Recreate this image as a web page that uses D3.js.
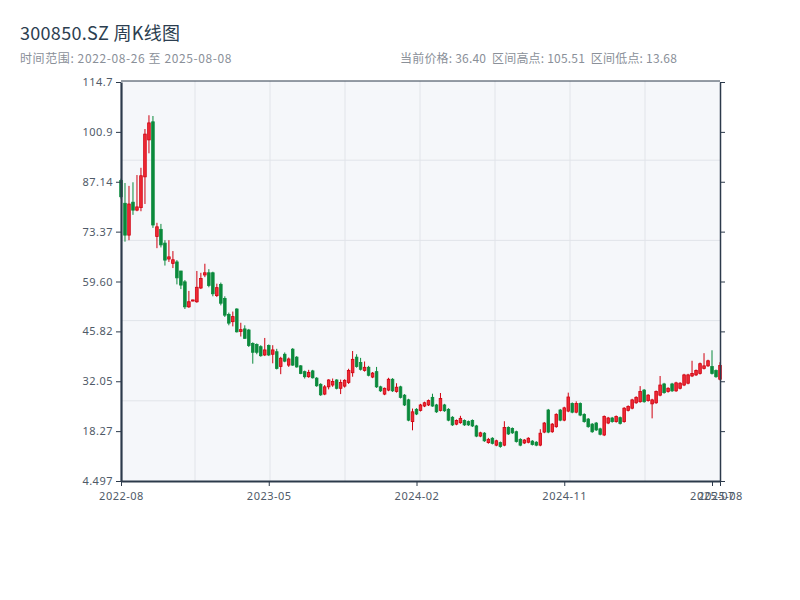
<!DOCTYPE html>
<html>
<head>
<meta charset="utf-8">
<script src="https://cdn.jsdelivr.net/npm/d3@7"></script>
<style>
  body { margin: 0; background: #fff; font-family: "Noto Sans CJK SC", "Noto Sans", sans-serif; }
</style>
</head>
<body>
<div id="chart"></div>
<script>
// weekly bars, holiday weeks with no trading are absent
const startDate = "2022-08-26";
const skippedWeeks = ["2022-10-07", "2023-01-27", "2023-10-06", "2024-02-16"];

const open = [
  87.5, 81.2, 72.4, 81.5, 79.3, 80, 88.5, 98.7, 103.7, 72,
  74, 70.2, 65.8, 64.6, 65, 62.5, 59.5, 52.6, 54.2, 54,
  57.8, 61.4, 62, 62, 55.7, 58.8, 54.9, 50.5, 48.5, 52,
  45.8, 46.5, 46.2, 42.5, 42.2, 41.6, 39.3, 41.9, 39.5, 40.2,
  36.1, 39.5, 36.5, 40.9, 38.7, 36.3, 34.7, 33.3, 34.9, 32.9,
  31.2, 28.5, 30.5, 31, 32.4, 30.1, 30.7, 31.7, 34.4, 38.7,
  37.2, 35, 35.9, 33.2, 34.7, 30.5, 28.5, 29.6, 32.6, 29.2,
  30.5, 28.2, 26.9, 20.9, 24.3, 24, 25.2, 25.5, 27.6, 25.5,
  24, 25.5, 24.3, 22.1, 20.2, 20.6, 21.2, 20.9, 21.2, 19.7,
  16.9, 17.7, 15.1, 16.3, 14.4, 15.1, 14.4, 19.3, 19, 18.1,
  16, 15, 15.2, 15.5, 15.2, 14.4, 18, 24.1, 18.1, 19.5,
  24.1, 21.3, 23.8, 25.9, 23.5, 25.9, 22.9, 21.6, 20.2, 20.5,
  18.9, 17.2, 20.5, 21.9, 20.9, 22, 20.9, 24, 24.6, 26.1,
  26.4, 29.6, 26.7, 25.8, 26.1, 28.2, 31.3, 29.2, 31.3, 29.4,
  30.1, 31, 31.5, 33.5, 33.8, 34.2, 35.6, 36.3, 36.1, 35,
  32.6
];
const close = [
  83, 72.4, 81, 79.3, 80.2, 88.8, 100.3, 103.4, 75.2, 74.7,
  69.7, 65.5, 66.4, 65.6, 60.6, 58.6, 52.6, 54, 54.5, 58,
  60.4, 62, 58.5, 56.2, 57.9, 53.6, 50.3, 48.1, 49.9, 45.7,
  46.3, 43.9, 41.9, 40.05, 40.05, 39.1, 40.7, 39.3, 40.7, 35.6,
  38.4, 37.6, 38.2, 36.5, 36, 34.2, 33.3, 34.5, 33, 30.8,
  28.3, 30.5, 32.4, 32, 30.1, 31.7, 32.3, 35, 38.1, 36.1,
  35.35, 35.9, 33.7, 34.3, 30.5, 29.4, 30.1, 32.6, 29.4, 30.4,
  27.6, 25.5, 21.3, 23.6, 23, 25.5, 26.1, 26.7, 25.2, 23.6,
  27.3, 23.9, 21.3, 20, 21.2, 21.8, 20, 20, 19.7, 16.9,
  17.8, 15.6, 16, 14.9, 15.6, 14, 19.3, 17.5, 17.8, 15.4,
  14.4, 15.8, 16.3, 14.6, 14.4, 17.7, 20.5, 18, 20.2, 22.9,
  21.3, 24.7, 27.7, 23.5, 25.9, 22.7, 20.9, 19.5, 18.1, 18.6,
  17.4, 22.3, 21.9, 20.9, 22.3, 20.4, 24.6, 25.1, 26.9, 27.6,
  29.2, 26.4, 28.2, 26.9, 29.2, 31, 28.9, 30.1, 29.4, 31.6,
  31.5, 33.8, 33.8, 34.2, 35, 36.9, 36.3, 37.7, 34.2, 33.3,
  36.4
];
const high = [
  88, 86.8, 86, 87, 89, 91, 101.7, 105.51, 105.3, 75.8,
  75.5, 71, 71, 68, 65.5, 62.5, 60, 57, 54.6, 62.5,
  62, 64.5, 63, 62.3, 59, 59.3, 55.5, 51, 51.3, 52.2,
  48.2, 47.5, 46.5, 42.8, 42.5, 42, 44, 42.2, 42, 41,
  38.8, 40, 38.6, 41.2, 39, 36.5, 35, 35.2, 35.2, 33.2,
  31.5, 31, 32.6, 32.8, 32.6, 32.5, 32.6, 35.5, 40.4, 39.5,
  38.5, 37.5, 36.3, 34.6, 36, 30.8, 30.3, 33, 32.9, 31.5,
  30.8, 28.5, 27.2, 24.5, 24.6, 25.8, 26.4, 27, 28.6, 25.8,
  28.8, 25.8, 24.6, 22.4, 21.5, 22.5, 21.5, 21.2, 21.5, 20,
  18.1, 18, 16.4, 16.6, 15.9, 15.4, 21, 19.6, 19.3, 18.4,
  16.3, 16.1, 16.6, 15.8, 15.5, 18.8, 20.8, 24.4, 20.5, 23.2,
  24.4, 25, 28.9, 26.2, 26.5, 26.2, 23.2, 21.9, 20.5, 20.8,
  19.2, 22.6, 22.2, 22.2, 22.6, 22.3, 24.9, 25.4, 27.2, 27.9,
  30.7, 29.9, 28.5, 27.2, 29.5, 33.5, 31.6, 30.4, 31.6, 31.9,
  31.8, 34.1, 34.1, 37.7, 35.3, 37.2, 39.8, 38, 40.6, 35.3,
  37.3
];
const low = [
  82.5, 70.6, 71, 78, 79, 79, 81, 95, 74.4, 68.8,
  69, 64, 65, 63.3, 58.8, 57.5, 52, 52.3, 54.1, 53.7,
  57.5, 60.8, 58, 55.5, 55.3, 53, 49.8, 47.5, 47.2, 45.5,
  44.4, 43.8, 41.5, 36.9, 39.5, 38.8, 39, 39, 37, 35.3,
  34, 37.3, 36, 36.3, 35.8, 34, 32.8, 33, 32.8, 30.5,
  28, 28.2, 29.8, 30.5, 29.8, 28.5, 30.3, 31.3, 33.3, 35.8,
  35, 34.7, 33.4, 32.9, 30.2, 29.1, 28.2, 29.3, 29.1, 28.9,
  27.3, 25.2, 21, 18.5, 22.7, 23.7, 24.9, 25.2, 25, 23.3,
  23.7, 23.6, 21, 19.7, 19.9, 20.3, 19.7, 19.7, 19.4, 16.6,
  16.6, 15.3, 14.8, 14.6, 14.1, 13.68, 14.1, 17.2, 17.5, 15.1,
  14.1, 14.7, 14.9, 14.3, 14.1, 14.1, 17.7, 17.7, 17.8, 19.2,
  21, 21, 23.5, 23.2, 23.2, 22.4, 20.6, 19.2, 17.8, 18.3,
  17.1, 16.9, 20.2, 20.6, 20.6, 20.1, 20.6, 23.7, 24.3, 25.8,
  26.1, 26.1, 26.4, 21.8, 25.8, 27.9, 28.6, 28.9, 29.1, 29.1,
  29.8, 30.7, 31.2, 33.2, 33.5, 33.9, 35.3, 36, 33.9, 33,
  32.3
];

// category positions that get a date label
const tickIndex = [0, 37, 74, 111, 148, 150];

const parse = d3.timeParse("%Y-%m-%d");
const fmtDay = d3.timeFormat("%Y-%m-%d");
const dates = [];
let day = parse(startDate);
while (dates.length < close.length) {
  if (!skippedWeeks.includes(fmtDay(day))) dates.push(day);
  day = d3.timeWeek.offset(day, 1);
}

const bars = close.map((c, i) => ({ i, o: open[i], h: high[i], l: low[i], c }));

const width = 800, height = 600;
const plotLeft = 121, plotRight = 720, plotTop = 81, plotBottom = 481;

const svg = d3.select("#chart").append("svg")
    .attr("width", width)
    .attr("height", height);

// title block
const hi = d3.max(high), lo = d3.min(low);
svg.append("text").attr("x", 20).attr("y", 40)
    .attr("font-size", 18).attr("fill", "#2c3e50")
    .attr("letter-spacing", 0.3)
    .text("300850.SZ 周K线图");
svg.append("text").attr("x", 20).attr("y", 63)
    .attr("font-size", 12).attr("fill", "#8a9099")
    .attr("letter-spacing", 0.6)
    .text("时间范围: " + fmtDay(dates[0]) + " 至 " + fmtDay(dates[dates.length - 1]));
svg.append("text").attr("x", 400).attr("y", 63)
    .attr("font-size", 12).attr("fill", "#8a9099")
    .attr("letter-spacing", 0.2)
    .style("white-space", "pre")
    .text("当前价格: " + close[close.length - 1].toFixed(2) + "  区间高点: " + hi.toFixed(2) + "  区间低点: " + lo.toFixed(2));

const pad = (hi - lo) * 0.1;
const y = d3.scaleLinear().domain([lo - pad, hi + pad]).range([plotBottom, plotTop + 1]);
const x = d3.scaleLinear().domain([0, bars.length - 1]).range([plotLeft, plotRight]);

// plot background and grid (grid splits the box evenly, not on ticks)
svg.append("rect")
    .attr("x", plotLeft).attr("y", plotTop)
    .attr("width", plotRight - plotLeft).attr("height", plotBottom - plotTop)
    .attr("fill", "#f5f7fa");

const gx = d3.scaleLinear().domain([0, 8]).range([plotLeft - 1, plotRight]);
const gy = d3.scaleLinear().domain([0, 5]).range([plotBottom, plotTop - 1]);
svg.append("g").selectAll("line").data(d3.range(1, 8)).join("line")
    .attr("x1", k => gx(k)).attr("x2", k => gx(k))
    .attr("y1", plotTop).attr("y2", plotBottom)
    .attr("stroke", "#e1e4e9").attr("stroke-width", 1);
svg.append("g").selectAll("line").data(d3.range(1, 5)).join("line")
    .attr("x1", plotLeft).attr("x2", plotRight)
    .attr("y1", k => gy(k)).attr("y2", k => gy(k))
    .attr("stroke", "#e1e4e9").attr("stroke-width", 1);

// candles
const upStroke = "#d0000f", upFill = "#ee2a35", downColor = "#0b8a3c";
const bw = 2.6;
const g = svg.append("g");
g.selectAll("line.wick").data(bars).join("line")
    .attr("class", "wick")
    .attr("x1", b => x(b.i)).attr("x2", b => x(b.i))
    .attr("y1", b => y(b.h)).attr("y2", b => y(b.l))
    .attr("stroke", b => b.c >= b.o ? upStroke : downColor)
    .attr("stroke-width", 1);
g.selectAll("rect.body").data(bars).join("rect")
    .attr("class", "body")
    .attr("x", b => x(b.i) - bw / 2)
    .attr("width", bw)
    .attr("y", b => y(Math.max(b.o, b.c)))
    .attr("height", b => Math.max(1, Math.abs(y(b.o) - y(b.c))))
    .attr("fill", b => b.c >= b.o ? upFill : downColor)
    .attr("stroke", b => b.c >= b.o ? upStroke : downColor)
    .attr("stroke-width", 0.8);

// axes
const axisColor = "#2c3a4b";
const yTicks = d3.range(9).map(k => y.domain()[0] + k * (y.domain()[1] - y.domain()[0]) / 8);

const yAxis = svg.append("g")
    .attr("transform", `translate(${plotLeft},0)`)
    .call(d3.axisLeft(y).tickValues(yTicks).tickFormat(d3.format(".4r")).tickSize(5).tickSizeOuter(0));
yAxis.select(".domain").attr("stroke", axisColor).attr("stroke-width", 2.2);
yAxis.selectAll(".tick line").attr("stroke", axisColor);
yAxis.selectAll("text").attr("fill", "#4f5a68").attr("font-size", 11)
    .attr("letter-spacing", 0.5)
    .attr("font-family", "'Noto Sans', sans-serif");

const yRight = svg.append("g")
    .attr("transform", `translate(${plotRight},0)`)
    .call(d3.axisRight(y).tickValues(yTicks).tickFormat("").tickSize(5).tickSizeOuter(0));
yRight.select(".domain").attr("stroke", axisColor).attr("stroke-width", 1.5);
yRight.selectAll(".tick line").attr("stroke", axisColor);

svg.append("line")
    .attr("x1", plotLeft).attr("x2", plotRight)
    .attr("y1", plotTop).attr("y2", plotTop)
    .attr("stroke", axisColor).attr("stroke-width", 1);

const xAxis = svg.append("g")
    .attr("transform", `translate(0,${plotBottom})`)
    .call(d3.axisBottom(x).tickValues(tickIndex)
        .tickFormat(i => d3.timeFormat("%Y-%m")(dates[i]))
        .tickSize(5).tickSizeOuter(0).tickPadding(6));
xAxis.select(".domain").attr("stroke", axisColor).attr("stroke-width", 2.2);
xAxis.selectAll(".tick line").attr("stroke", axisColor);
xAxis.selectAll("text").attr("fill", "#4f5a68").attr("font-size", 11)
    .attr("letter-spacing", 0.5)
    .attr("font-family", "'Noto Sans', sans-serif");
</script>
</body>
</html>
